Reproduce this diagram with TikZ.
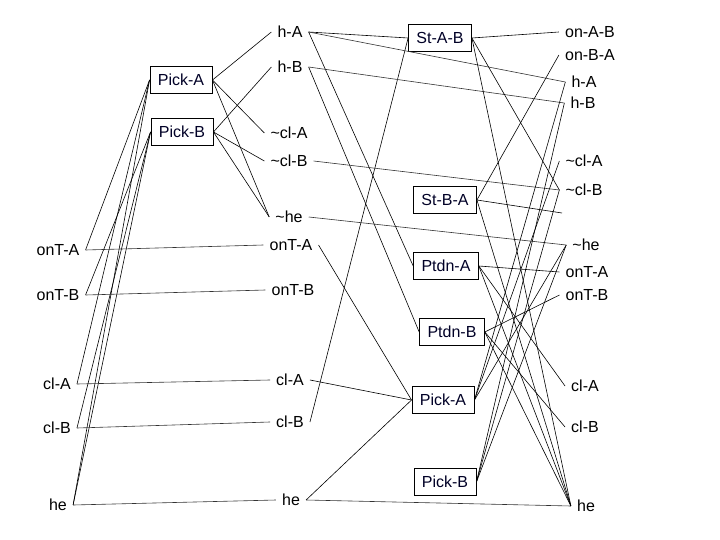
\documentclass[tikz,border=0pt]{standalone}
\usepackage{fontspec}
\setmainfont{Liberation Sans}
\begin{document}
\begin{tikzpicture}[x=1pt,y=-1pt,
  prop/.style={inner xsep=6pt,inner ysep=2pt,font=\fontsize{16}{19}\selectfont},
  act/.style={draw,line width=0.7pt,inner xsep=8pt,inner ysep=0pt,minimum height=27pt,
    text=black!75!blue!60!black,font=\fontsize{16}{19}\selectfont},
  link/.style={line width=0.6pt},
  noop/.style={line width=0.6pt,black!80}]
\useasboundingbox (0,0) rectangle (720,540);
% level 0
\node[prop] (oA0) at (58,250) {onT-A};
\node[prop] (oB0) at (58,295) {onT-B};
\node[prop] (cA0) at (57,384) {cl-A};
\node[prop] (cB0) at (57,428) {cl-B};
\node[prop] (he0) at (58,505) {he};
% actions 1
\node[act] (pA1) at (181,80) {Pick-A};
\node[act] (pB1) at (182,132) {Pick-B};
% level 1
\node[prop] (hA1) at (290,32) {h-A};
\node[prop] (hB1) at (290,67) {h-B};
\node[prop] (ncA1) at (289,133) {\textasciitilde cl-A};
\node[prop] (ncB1) at (289,161) {\textasciitilde cl-B};
\node[prop] (nhe1) at (289,217) {\textasciitilde he};
\node[prop] (oA1) at (291,245) {onT-A};
\node[prop] (oB1) at (293,290) {onT-B};
\node[prop] (cA1) at (290,380) {cl-A};
\node[prop] (cB1) at (290,422) {cl-B};
\node[prop] (he1) at (291,500) {he};
% actions 2
\node[act] (sAB) at (440,38) {St-A-B};
\node[act] (sBA) at (445,200) {St-B-A};
\node[act] (dA) at (446,266) {Ptdn-A};
\node[act] (dB) at (452,332) {Ptdn-B};
\node[act] (pA2) at (443,400) {Pick-A};
\node[act] (pB2) at (445,482) {Pick-B};
% level 2
\node[prop] (onAB) at (590,32) {on-A-B};
\node[prop] (onBA) at (590,55) {on-B-A};
\node[prop] (hA2) at (584,82) {h-A};
\node[prop] (hB2) at (583,103) {h-B};
\node[prop] (ncA2) at (584,161) {\textasciitilde cl-A};
\node[prop] (ncB2) at (584,190) {\textasciitilde cl-B};
\coordinate (nx2) at (562,213);
\node[prop] (nhe2) at (586,245) {\textasciitilde he};
\node[prop] (oA2) at (587,272) {onT-A};
\node[prop] (oB2) at (587,295) {onT-B};
\node[prop] (cA2) at (585,386) {cl-A};
\node[prop] (cB2) at (585,427) {cl-B};
\node[prop] (he2) at (586,506) {he};
% preconditions level 0 -> actions 1
\foreach \s in {oA0,cA0,he0} \draw[link] (\s.east) -- (pA1.west);
\foreach \s in {oB0,cB0,he0} \draw[link] (\s.east) -- (pB1.west);
% noops 0 -> 1
\draw[noop] (oA0.east) -- (oA1.west);
\draw[noop] (oB0.east) -- (oB1.west);
\draw[noop] (cA0.east) -- (cA1.west);
\draw[noop] (cB0.east) -- (cB1.west);
\draw[noop] (he0.east) -- (he1.west);
% effects actions 1
\foreach \t in {hA1,ncA1,nhe1} \draw[link] (pA1.east) -- (\t.west);
\foreach \t in {hB1,ncB1,nhe1} \draw[link] (pB1.east) -- (\t.west);
% preconditions level 1 -> actions 2
\draw[link] (hA1.east) -- (sAB.west);
\draw[link] (cB1.east) -- (sAB.west);
\draw[link] (hA1.east) -- (dA.west);
\draw[link] (hB1.east) -- (dB.west);
\draw[link] (oA1.east) -- (pA2.west);
\draw[link] (cA1.east) -- (pA2.west);
\draw[link] (he1.east) -- (pA2.west);
% noops 1 -> 2
\draw[noop] (hA1.east) -- (hA2.west);
\draw[noop] (hB1.east) -- (hB2.west);
\draw[noop] (ncB1.east) -- (ncB2.west);
\draw[noop] (nhe1.east) -- (nhe2.west);
\draw[noop] (he1.east) -- (he2.west);
% effects actions 2
\foreach \t in {onAB,ncB2,he2} \draw[link] (sAB.east) -- (\t.west);
\draw[link] (sBA.east) -- (onBA.west);
\draw[link] (sBA.east) -- (nx2);
\draw[link] (sBA.east) -- (he2.west);
\foreach \t in {oA2,cA2,he2} \draw[link] (dA.east) -- (\t.west);
\foreach \t in {oB2,cB2,he2} \draw[link] (dB.east) -- (\t.west);
\foreach \t in {hA2,ncA2,nhe2} \draw[link] (pA2.east) -- (\t.west);
\foreach \t in {hB2,ncB2,nhe2} \draw[link] (pB2.east) -- (\t.west);
\end{tikzpicture}
\end{document}
